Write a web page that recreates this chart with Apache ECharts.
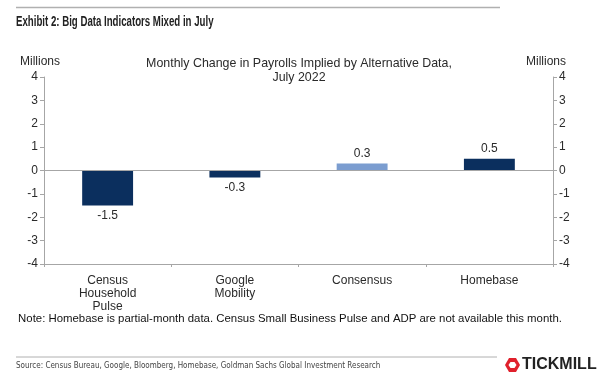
<!DOCTYPE html>
<html>
<head>
<meta charset="utf-8">
<script src="https://cdn.jsdelivr.net/npm/echarts@6/dist/echarts.min.js"></script>
<style>
  html, body { margin: 0; padding: 0; background: #fff; }
  #chart { width: 602px; height: 375px; }
</style>
</head>
<body>
<div id="chart"></div>
<script>
// data
const categories = ['Census\nHousehold\nPulse', 'Google\nMobility', 'Consensus', 'Homebase']
const values = [-1.5, -0.3, 0.3, 0.5]
const barColors = ['#0b2f5e', '#0b2f5e', '#7b9dd0', '#0b2f5e']
const yTicks = { min: -4, max: 4, interval: 1 }

const textColor = '#2a2a2a'
const axisColor = '#a6a6a6'
const font = 'Arial, "Liberation Sans", sans-serif'
const narrow = '"Liberation Sans Narrow", "DejaVu Sans Condensed", "Roboto Condensed", sans-serif'

const chart = echarts.init(document.getElementById('chart'))

const yAxisBase = {
  type: 'value',
  min: yTicks.min,
  max: yTicks.max,
  interval: yTicks.interval,
  axisLine: { show: true, lineStyle: { color: axisColor, width: 1 } },
  axisTick: { show: true, length: 4, lineStyle: { color: axisColor } },
  splitLine: { show: false },
  axisLabel: { color: textColor, fontSize: 12, fontFamily: font, margin: 6 }
}

const option = {
  animation: false,
  grid: { left: 44, right: 49, top: 77, bottom: 111, containLabel: false },
  xAxis: {
    type: 'category',
    data: categories,
    axisLine: { onZero: false, lineStyle: { color: axisColor } },
    axisTick: { show: true, length: 3, lineStyle: { color: axisColor } },
    axisLabel: {
      color: textColor, fontSize: 12, fontFamily: font,
      interval: 0, margin: 10, lineHeight: 13
    }
  },
  yAxis: [
    Object.assign({}, yAxisBase, { position: 'left' }),
    Object.assign({}, yAxisBase, { position: 'right' })
  ],
  series: [{
    type: 'bar',
    barWidth: '40%',
    data: values.map((v, i) => ({
      value: v,
      itemStyle: { color: barColors[i] },
      label: { position: v < 0 ? 'bottom' : 'top' }
    })),
    label: {
      show: true,
      color: textColor,
      fontSize: 12,
      fontFamily: font,
      distance: 4,
      formatter: p => p.value.toFixed(1)
    },
    markLine: {
      silent: true,
      symbol: 'none',
      label: { show: false },
      lineStyle: { color: axisColor, type: 'solid', width: 1 },
      data: [{ yAxis: 0 }]
    }
  }],
  graphic: [
    { type: 'line', shape: { x1: 16, y1: 7.5, x2: 500, y2: 7.5 }, style: { stroke: '#b0b0b0', lineWidth: 1.5 } },
    { type: 'text', x: 16, y: 15, scaleX: 0.69, style: { text: 'Exhibit 2: Big Data Indicators Mixed in July', fill: '#222', font: 'bold 14px ' + font } },
    { type: 'text', left: 20, top: 56, style: { text: 'Millions', fill: textColor, font: '12px ' + font } },
    { type: 'text', left: 526, top: 56, style: { text: 'Millions', fill: textColor, font: '12px ' + font } },
    { type: 'text', x: 299, y: 57, style: { text: 'Monthly Change in Payrolls Implied by Alternative Data,\nJuly 2022', fill: textColor, font: '12.4px ' + font, align: 'center', lineHeight: 14 } },
    { type: 'text', x: 290, y: 313, style: { text: 'Note: Homebase is partial-month data. Census Small Business Pulse and ADP are not available this month.', fill: '#111', font: '11.4px ' + font, align: 'center' } },
    { type: 'line', shape: { x1: 16, y1: 357, x2: 497, y2: 357 }, style: { stroke: '#b0b0b0', lineWidth: 1 } },
    { type: 'text', left: 16, top: 362, style: { text: 'Source: Census Bureau, Google, Bloomberg, Homebase, Goldman Sachs Global Investment Research', fill: '#444', font: '8px ' + narrow } },
    { type: 'polygon', shape: { points: [[509, 358], [516, 358], [520, 365], [516, 372], [509, 372], [505, 365]] }, style: { fill: '#e0202c' } },
    { type: 'polygon', shape: { points: [[510.5, 362], [514.5, 362], [516.5, 365], [514.5, 368], [510.5, 368], [508.5, 365]] }, style: { fill: '#fff' } },
    { type: 'text', left: 522, top: 357, style: { text: 'TICKMILL', fill: '#222', font: 'bold 16px ' + font } }
  ]
}

chart.setOption(option)
</script>
</body>
</html>
